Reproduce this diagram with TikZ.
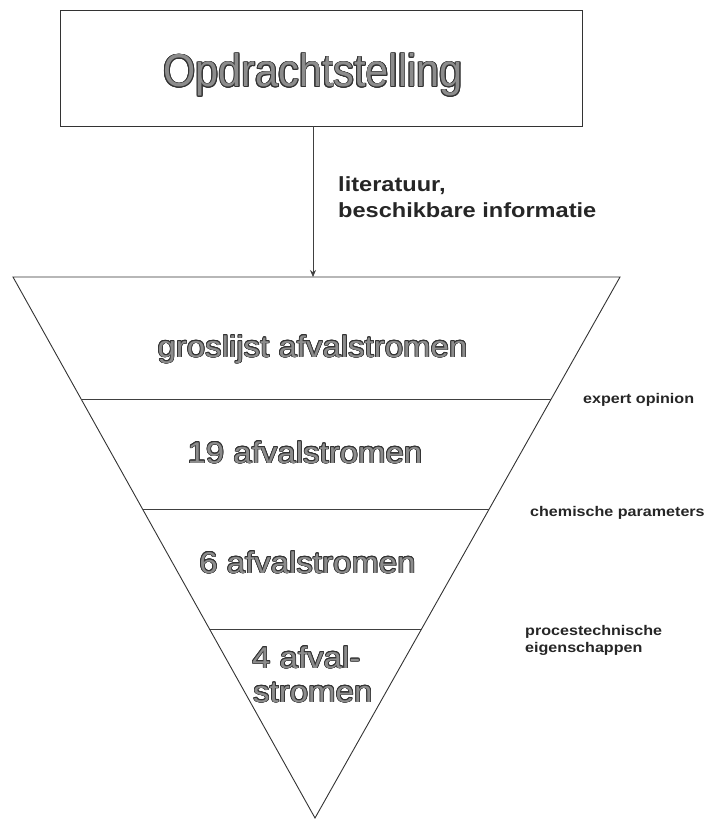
\documentclass[tikz,border=0pt]{standalone}
\usepackage{fontspec}
\usepackage{contour}
\usetikzlibrary{calc,arrows.meta}
\newfontfamily\bigfont[FakeStretch=1.1]{Liberation Sans}
\newfontfamily\titlefont[FakeStretch=0.9]{Liberation Sans}
\newfontfamily\labfont[FakeStretch=1.15]{Liberation Sans Bold}
\contourlength{0.7pt}
\newcommand{\outl}[1]{\contour{black!80}{#1}}
\tikzset{
  frame/.style={draw=black!80, line width=0.9pt},
  divider/.style={draw=black!75, line width=0.9pt},
  bigtext/.style={inner sep=0pt, text=black!45, font=\bigfont\fontsize{30}{34}\selectfont},
  titletext/.style={inner sep=0pt, text=black!45, font=\titlefont\fontsize{46}{50}\selectfont},
  labtext/.style={inner sep=0pt, text=black!85, font=\labfont\fontsize{20.5}{25}\selectfont, align=left},
  smalllab/.style={inner sep=0pt, text=black!85, font=\labfont\fontsize{14}{17}\selectfont, align=left},
  flow/.style={draw=black!75, line width=0.7pt, -{Stealth[length=7pt,width=6pt]}}
}
\begin{document}
\begin{tikzpicture}[x=1pt,y=-1pt]
\useasboundingbox (0,0) rectangle (711,821);
% top box
\node[frame, minimum width=522pt, minimum height=116pt, inner sep=0pt] (top) at (321,68) {};
\node[titletext, anchor=base] (toptxt) at (313,87) {\outl{Opdrachtstelling}};
% triangle
\coordinate (tl) at (13,277);
\coordinate (tr) at (620,277);
\coordinate (apex) at (315,818);
\draw[frame, line join=miter] (tl) -- (tr) -- (apex) -- cycle;
\coordinate (entry) at (313,277);
\draw[flow] (top.south -| entry) -- (entry);
% dividers
\foreach \y/\n in {399/a, 509/b, 629/c}{
  \coordinate (l\n) at ($(tl)!{(\y-277)/541}!(apex)$);
  \coordinate (r\n) at ($(tr)!{(\y-277)/541}!(apex)$);
  \draw[divider] (l\n) -- (r\n);
}
% labels
\node[labtext, anchor=base west] (lit1) at (338,192) {literatuur,};
\node[labtext, anchor=base west] (lit2) at (338,217) {beschikbare informatie};
\node[smalllab, anchor=base west] (exp) at (583,403) {expert opinion};
\node[smalllab, anchor=base west] (chem) at (530,516) {chemische parameters};
\node[smalllab, anchor=base west] (proc1) at (525,635) {procestechnische};
\node[smalllab, anchor=base west] (proc2) at (525,652) {eigenschappen};
% level texts
\node[bigtext, anchor=base] (t1) at (312.5,357) {\outl{groslijst afvalstromen}};
\node[bigtext, anchor=base] (t2) at (305,463) {\outl{19 afvalstromen}};
\node[bigtext, anchor=base] (t3) at (307.5,573) {\outl{6 afvalstromen}};
\node[bigtext, anchor=base west] (t4a) at (252,668) {\outl{4 afval-}};
\node[bigtext, anchor=base west] (t4b) at (253,702) {\outl{stromen}};
\end{tikzpicture}
\end{document}
